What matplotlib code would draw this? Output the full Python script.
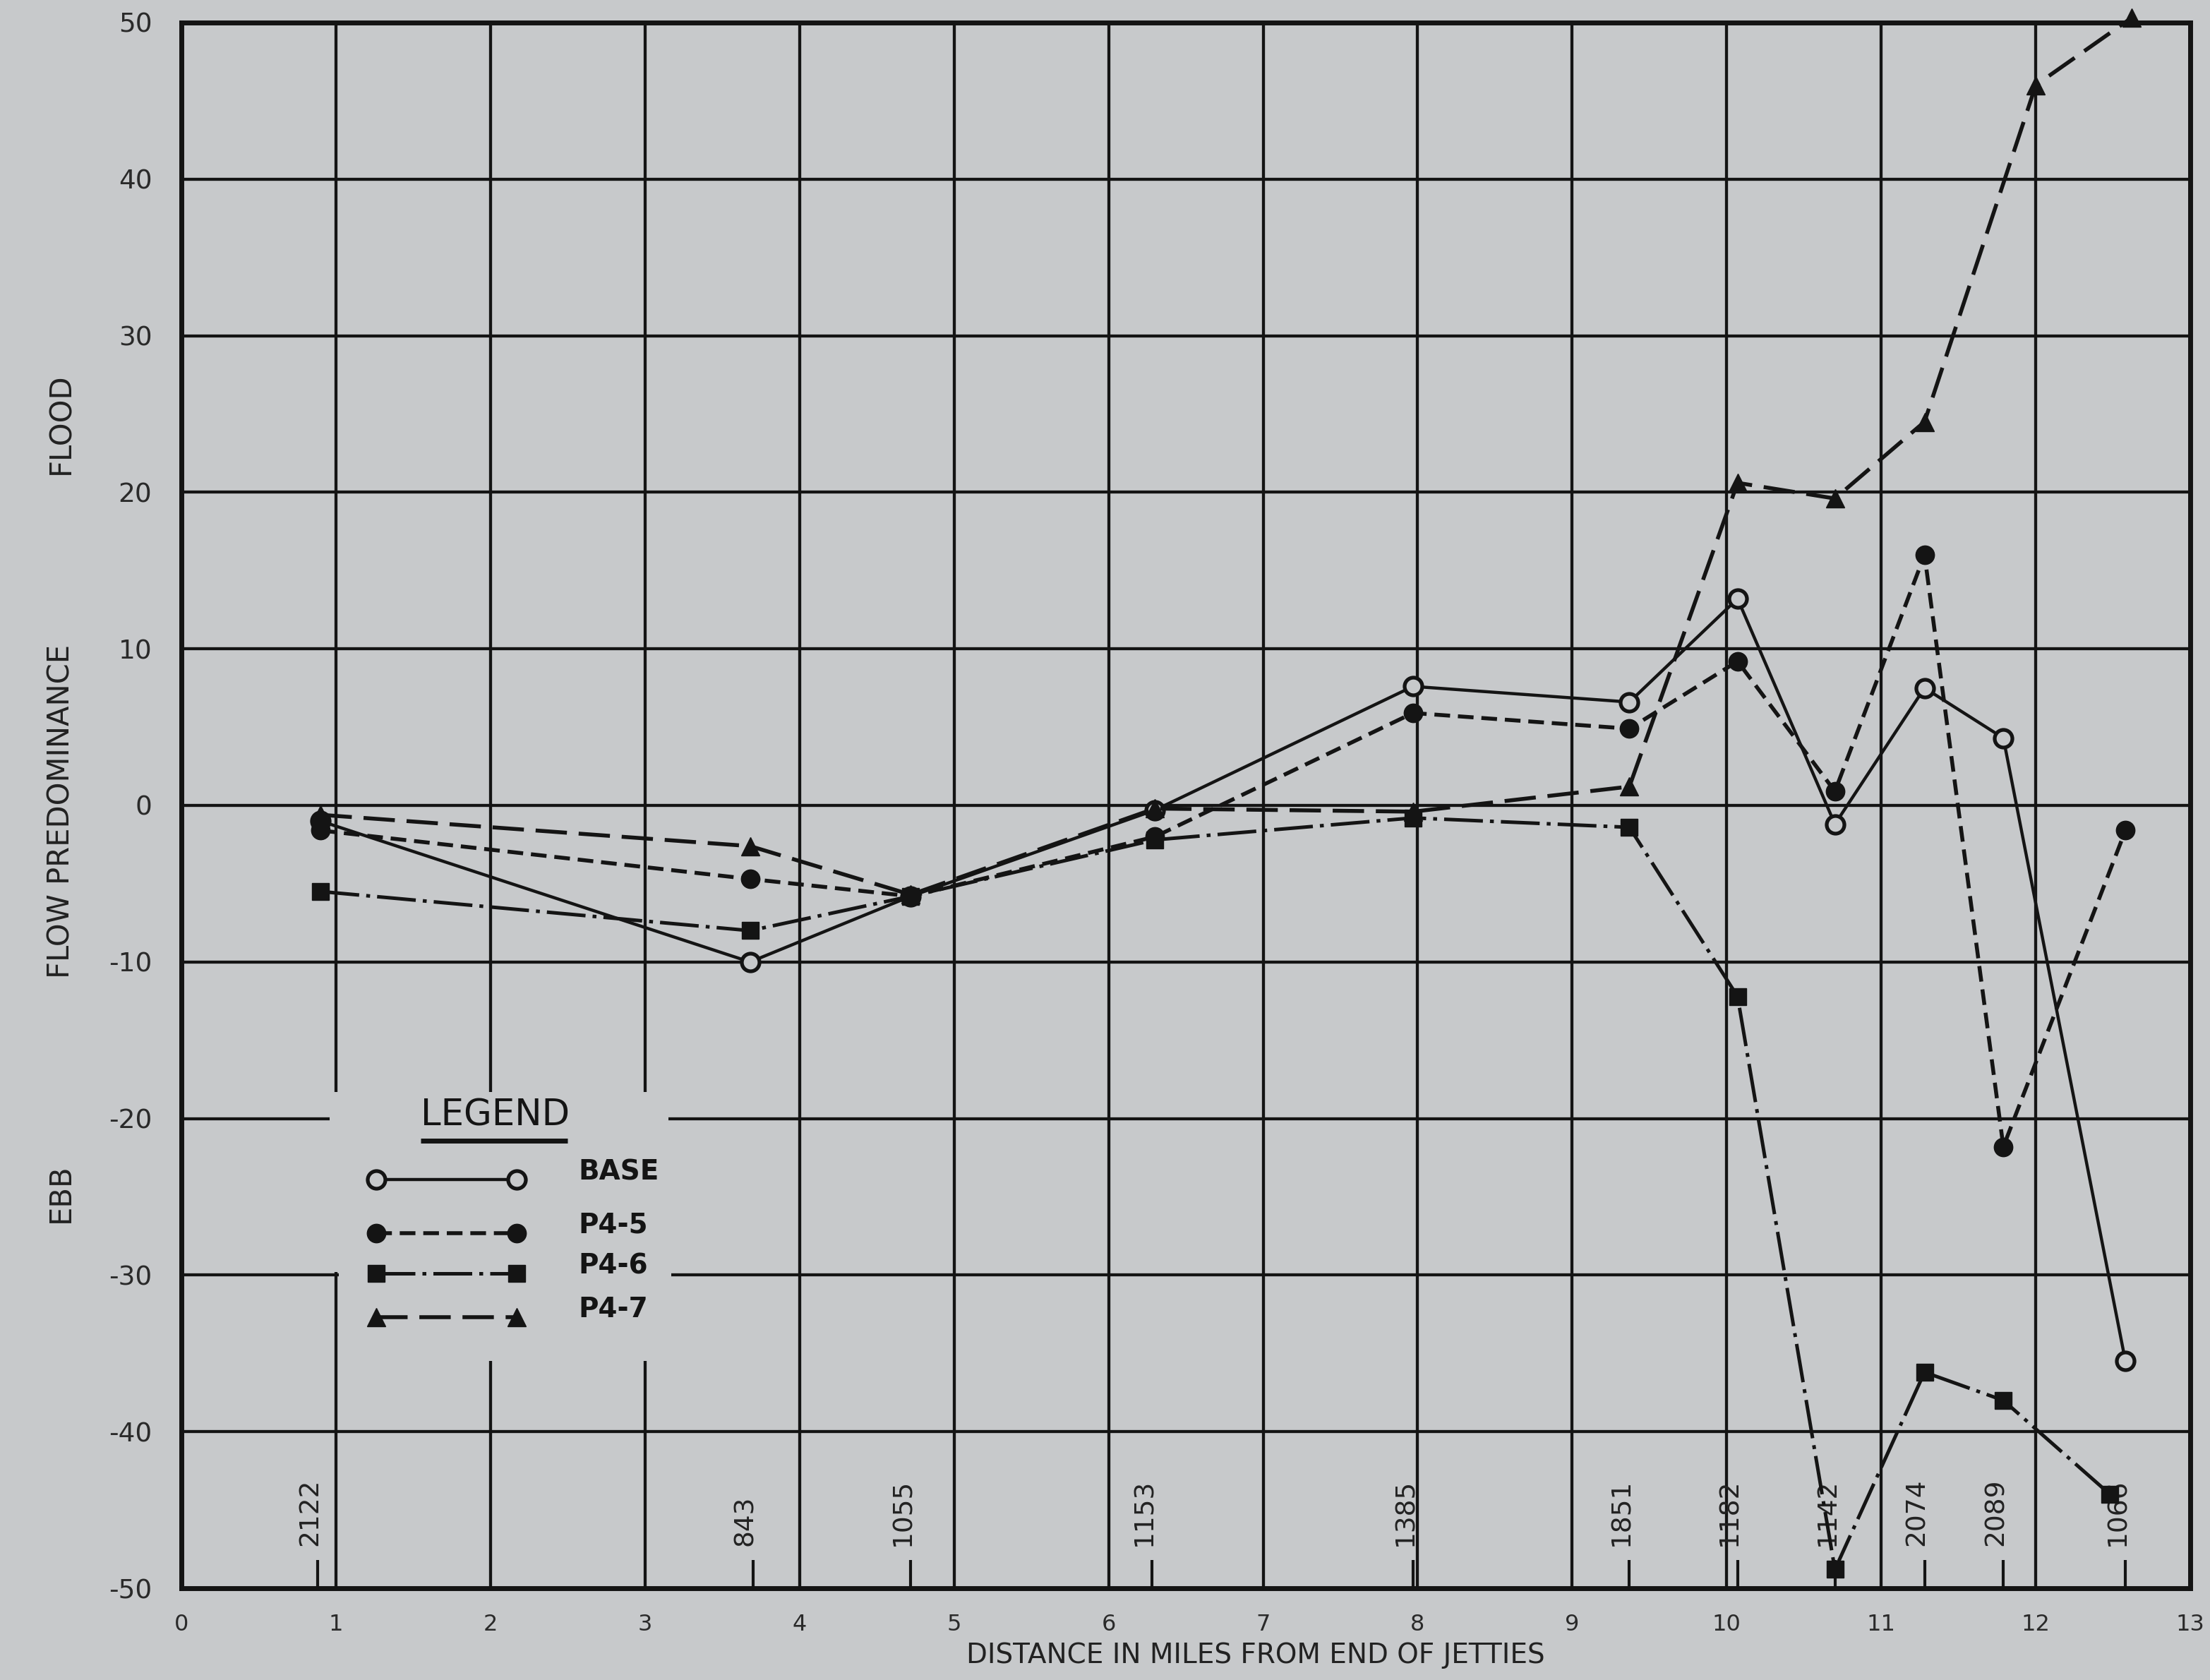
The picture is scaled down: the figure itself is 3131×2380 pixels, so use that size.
import matplotlib
matplotlib.use('Agg')
import matplotlib.pyplot as plt
from matplotlib.patches import Rectangle

plt.rcParams['font.family'] = ['DejaVu Sans']
plt.rcParams['axes.unicode_minus'] = False

# ---------------- data ----------------
x_base = [0.90, 3.68, 4.72, 6.30, 7.97, 9.37, 10.07, 10.70, 11.28, 11.79, 12.58]
y_base = [-1.0, -10.0, -5.8, -0.3, 7.6, 6.6, 13.2, -1.2, 7.5, 4.3, -35.5]

x_p45 = [0.90, 3.68, 4.72, 6.30, 7.97, 9.37, 10.07, 10.70, 11.28, 11.79, 12.58]
y_p45 = [-1.6, -4.7, -5.8, -2.0, 5.9, 4.9, 9.2, 0.9, 16.0, -21.8, -1.6]

x_p46 = [0.90, 3.68, 4.72, 6.30, 7.97, 9.37, 10.07, 10.70, 11.28, 11.79, 12.48]
y_p46 = [-5.5, -8.0, -5.8, -2.2, -0.8, -1.4, -12.2, -48.8, -36.2, -38.0, -44.0]

x_p47 = [0.90, 3.68, 4.72, 6.30, 7.97, 9.37, 10.07, 10.70, 11.28, 12.00, 12.62]
y_p47 = [-0.6, -2.6, -5.7, -0.2, -0.4, 1.2, 20.6, 19.6, 24.5, 46.0, 50.3]

station_x = [0.88, 3.70, 4.72, 6.28, 7.97, 9.37, 10.07, 10.70, 11.28, 11.79, 12.58]
station_labels = ['2122', '843', '1055', '1153', '1385', '1851', '1182', '1142', '2074', '2089', '1066']

x_ticks = list(range(0, 14))
y_ticks = list(range(-50, 51, 10))
series_names = ['BASE', 'P4-5', 'P4-6', 'P4-7']

# ---------------- style ----------------
BG = '#c7c9cb'
INK = '#141414'

fig = plt.figure(figsize=(31.31, 23.80), dpi=100, facecolor=BG)
ax = fig.add_axes([0.0821, 0.0546, 0.909, 0.932])
ax.set_facecolor(BG)
ax.set_xlim(0, 13)
ax.set_ylim(-50, 50)

ax.set_xticks(x_ticks)
ax.set_yticks(y_ticks)
ax.set_xticklabels([str(v) for v in x_ticks], fontsize=23, color='#2a2a2a')
ax.set_yticklabels([str(v) for v in y_ticks], fontsize=27, color='#2a2a2a')
ax.tick_params(axis='both', length=0)
ax.tick_params(axis='y', pad=30)
ax.tick_params(axis='x', pad=26)

ax.grid(True, color=INK, linewidth=3.1, zorder=0)
ax.set_axisbelow(True)
for sp in ax.spines.values():
    sp.set_linewidth(5)
    sp.set_color(INK)
    sp.set_zorder(5)

# legend background covering the grid
ax.add_patch(Rectangle((0.96, -29.8), 3.15 - 0.96, -18.3 - (-29.8),
                       facecolor=BG, edgecolor='none', zorder=1))
ax.add_patch(Rectangle((1.02, -35.5), 3.17 - 1.02, -29.8 - (-35.5),
                       facecolor=BG, edgecolor='none', zorder=1))

styles = {
    'BASE': dict(linestyle='-', marker='o', markerfacecolor=BG, markeredgecolor=INK,
                 markeredgewidth=3.8, markersize=18, linewidth=3.2),
    'P4-5': dict(linestyle=(0, (4.0, 2.0)), marker='o', markerfacecolor=INK,
                 markeredgecolor=INK, markersize=19, linewidth=4.0),
    'P4-6': dict(linestyle=(0, (11, 2.0, 1.1, 2.0)), marker='s', markerfacecolor=INK,
                 markeredgecolor=INK, markersize=17, linewidth=3.6),
    'P4-7': dict(linestyle=(0, (8, 3.0)), marker='^', markerfacecolor=INK,
                 markeredgecolor=INK, markersize=19, linewidth=4.0),
}
series = {
    'BASE': (x_base, y_base),
    'P4-5': (x_p45, y_p45),
    'P4-6': (x_p46, y_p46),
    'P4-7': (x_p47, y_p47),
}
for name in series_names:
    xs, ys = series[name]
    ax.plot(xs, ys, color=INK, zorder=3, clip_on=False, **styles[name])

# station ticks and labels
ax.vlines(station_x, -50, -48.2, color=INK, linewidth=3.0, zorder=2)
for sx, lab in zip(station_x, station_labels):
    ax.text(sx - 0.05, -47.3, lab, rotation=90, ha='center', va='bottom',
            fontsize=27, color='#222222', zorder=2)

# custom legend
ax.text(2.03, -19.8, 'LEGEND', ha='center', va='center', fontsize=37, color=INK, zorder=4)
ax.plot([1.55, 2.50], [-21.4, -21.4], color=INK, linewidth=5, solid_capstyle='butt', zorder=4)
legend_rows = [-23.9, -27.3, -29.9, -32.7]
for name, ry in zip(series_names, legend_rows):
    ax.plot([1.26, 2.17], [ry, ry], color=INK, zorder=4, **styles[name])
    ax.text(2.57, ry + 0.5, name, ha='left', va='center', fontsize=28,
            fontweight='bold', color=INK, zorder=4)

# axis titles
fig.text(0.0275, 0.517, 'FLOW PREDOMINANCE', rotation=90, ha='center', va='center',
         fontsize=30, color='#222222')
fig.text(0.0275, 0.748, 'FLOOD', rotation=90, ha='center', va='center',
         fontsize=30, color='#222222')
fig.text(0.0275, 0.290, 'EBB', rotation=90, ha='center', va='center',
         fontsize=30, color='#222222')
fig.text(0.568, 0.0145, 'DISTANCE IN MILES FROM END OF JETTIES', ha='center', va='center',
         fontsize=28, color='#222222')

fig.savefig('out.png', dpi=100, facecolor=BG)
